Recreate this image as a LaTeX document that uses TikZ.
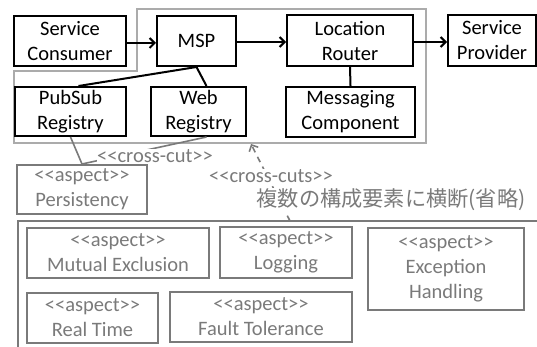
\documentclass[tikz,border=0pt]{standalone}
\usepackage{fontspec}
\setmainfont{Carlito}[Ligatures=TeXOff]
\newfontfamily\jpfont{Noto Sans CJK JP}
\usetikzlibrary{arrows.meta}
\definecolor{asp}{HTML}{7A7A7A}
\definecolor{cont}{HTML}{ABABAB}
\begin{document}
\begin{tikzpicture}[x=1pt,y=-1pt,
  every node/.style={font=\fontsize{20.5}{25}\selectfont, align=center},
  comp/.style={draw=black, line width=2pt, inner sep=0pt},
  aspbox/.style={draw=asp, text=asp, line width=2pt, inner sep=0pt},
  arr/.style={line width=2pt, -{Straight Barb[length=5pt,width=10pt,line width=2pt]}},
  lnk/.style={line width=2pt},
  glnk/.style={draw=asp, line width=1.6pt},
  lbl/.style={text=asp, fill=white, inner sep=0.5pt}]
\useasboundingbox (0,0) rectangle (537,347);
% container of MSP
\draw[cont, line width=2pt] (137,9) -- (426,9) -- (426,143) -- (14,143) -- (14,71) -- (137,71) -- cycle;
% outer aspect box (cropped)
\draw[asp, line width=2.2pt] (18,347) -- (18,221) -- (537,221);
% components
\node[comp, minimum width=112, minimum height=50] (cons) at (70,41) {Service\\Consumer};
\node[comp, minimum width=79, minimum height=50] (msp) at (196.5,41) {MSP};
\node[comp, minimum width=126, minimum height=51] (loc) at (350,40.5) {Location\\Router};
\node[comp, minimum width=88, minimum height=51] (prov) at (492,40.5) {Service\\Provider};
\node[comp, minimum width=111, minimum height=49] (pubsub) at (70.5,111.5) {PubSub\\Registry};
\node[comp, minimum width=95, minimum height=49] (web) at (198.5,111.5) {Web\\Registry};
\node[comp, minimum width=129, minimum height=50] (msg) at (350.5,112) {Messaging\\Component};
% aspects
\node[aspbox, minimum width=130, minimum height=49] (pers) at (82,189.5) {<<aspect>>\\Persistency};
\node[aspbox, minimum width=182, minimum height=50] (mutex) at (118,253) {<<aspect>>\\Mutual Exclusion};
\node[aspbox, minimum width=132, minimum height=51] (log) at (286,252.5) {<<aspect>>\\Logging};
\node[aspbox, minimum width=156, minimum height=82] (exc) at (446,269) {<<aspect>>\\Exception\\Handling};
\node[aspbox, minimum width=131, minimum height=50] (rt) at (92.5,318) {<<aspect>>\\Real Time};
\node[aspbox, minimum width=182, minimum height=50] (ft) at (261,317) {<<aspect>>\\Fault Tolerance};
% connectors
\draw[arr] (cons.east |- 0,43) -- (msp.west |- 0,43);
\draw[arr] (msp.east |- 0,42) -- (loc.west |- 0,42);
\draw[arr] (loc.east |- 0,42) -- (prov.west |- 0,42);
\draw[lnk] (msp.south) -- ([xshift=8]pubsub.north);
\draw[lnk] (msp.south) -- ([xshift=8]web.north);
\draw[lnk] (loc.south) -- (msg.north);
\draw[glnk] (pubsub.south) -- (pers.north);
\draw[glnk] ([xshift=8]web.south) -- (pers.north);
% cross-cuts dashed arrow
\coordinate (ccfrom) at (290,221);
\coordinate (ccto) at (251,144);
\draw[asp, line width=1.6pt, dash pattern=on 6pt off 5pt, -{Straight Barb[length=5pt,width=10pt,line width=1.6pt]}] (ccfrom) -- (ccto);
% labels
\node[lbl] (lcc) at (155,156) {<<cross-cut>>};
\node[lbl] (lccs) at (271,176) {<<cross-cuts>>};
\node[lbl, font=\jpfont\fontsize{21.2}{25}\selectfont] (ljp) at (391,200) {複数の構成要素に横断(省略)};
\end{tikzpicture}
\end{document}
